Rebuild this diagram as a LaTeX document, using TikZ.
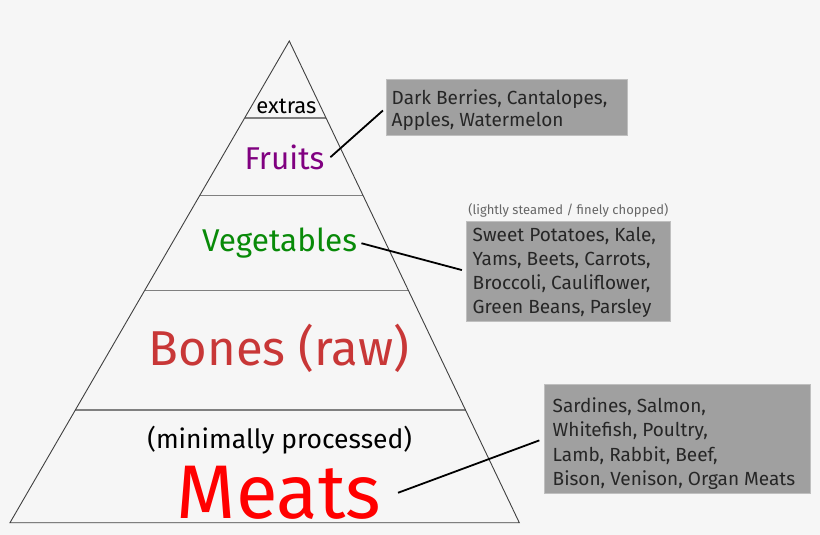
\documentclass[tikz,border=0pt]{standalone}
\usepackage{fontspec}
\setmainfont{Fira Sans}
\usetikzlibrary{positioning}

\definecolor{bgcol}{HTML}{F6F6F6}
\definecolor{boxcol}{HTML}{A0A0A0}
\definecolor{fruitcol}{HTML}{800080}
\definecolor{vegcol}{HTML}{088A08}
\definecolor{bonecol}{HTML}{C83737}
\definecolor{meatcol}{HTML}{FF0000}

\begin{document}
\begin{tikzpicture}
	 [scale =1]
	 \tikzset{inner sep=0pt,outer sep=0pt}
	\tikzstyle{edge}=[draw=black!75,line width=0.9pt]
	\tikzstyle{level}=[draw=black!50,line width=1.3pt]
	\tikzstyle{tier}=[anchor=base,inner ysep=0pt]
	\tikzstyle{foodbox}=[anchor=north west,fill=boxcol,draw=black!25,line width=0.6pt]
	% base of a list = baseline of its last line
	\tikzstyle{foodlist}=[anchor=base west,align=left,font=\fontsize{19}{23.8}\selectfont,text=black!85]
	\tikzstyle{connector}=[draw=black,line width=1.8pt,shorten >=5pt]
	\fill[bgcol] (0 pt,0 pt) rectangle (820 pt,-535 pt);
	\useasboundingbox (0 pt,0 pt) rectangle (820 pt,-535 pt);
	% pyramid
	\coordinate (apex) at (289.3 pt,-41.0 pt);
	\coordinate (bl) at (10.0 pt,-522.7 pt);
	\coordinate (br) at (519.3 pt,-522.7 pt);
	\draw[level] (244.7 pt,-118.0 pt) -- (326.1 pt,-118.0 pt);
	\draw[level] (199.7 pt,-195.5 pt) -- (363.1 pt,-195.5 pt);
	\draw[level] (144.6 pt,-290.5 pt) -- (408.4 pt,-290.5 pt);
	\draw[level] (75.4 pt,-410.0 pt) -- (465.5 pt,-410.0 pt);
	\draw[edge,line join=miter] (apex) -- (bl) -- (br) -- cycle;
	% tiers
	\node [tier,font=\fontsize{22}{24}\selectfont] (extras) at (286.4 pt,-113.3 pt) {extras};
	\node [tier,text=fruitcol,inner xsep=6pt,font=\fontsize{31.5}{34}\selectfont] (fruits) at (284.5 pt,-169.3 pt) {Fruits};
	\node [tier,text=vegcol,inner xsep=4.5pt,font=\fontsize{31.5}{34}\selectfont] (veg) at (279.5 pt,-251.7 pt) {Vegetables};
	\node [tier,text=bonecol,font=\fontsize{49}{52}\selectfont] (bones) at (279.0 pt,-365.0 pt) {Bones (raw)};
	\node [tier,font=\fontsize{26.5}{28}\selectfont] (proc) at (279.7 pt,-448.0 pt) {(minimally processed)};
	\node [tier,text=meatcol,inner xsep=17pt,font=\fontsize{76}{80}\selectfont] (meats) at (279.0 pt,-518.5 pt) {Meats};
	% food lists
	\node [foodbox,minimum width=240.3pt,minimum height=55.7pt] (b1) at (386.7 pt,-79.3 pt) {};
	\node [foodlist,font=\fontsize{19}{22.6}\selectfont] (b1list) at (391.7 pt,-126.9 pt) {Dark Berries, Cantalopes,\\Apples, Watermelon};
	\node [foodbox,minimum width=203.3pt,minimum height=100.7pt] (b2) at (466.7 pt,-221.0 pt) {};
	\node [foodlist] (b2list) at (472.7 pt,-313.1 pt) {Sweet Potatoes, Kale,\\Yams, Beets, Carrots,\\Broccoli, Cauliflower,\\Green Beans, Parsley};
	\node [font=\fontsize{13}{15}\selectfont,text=black!60,above=4pt of b2] (b2note) {(lightly steamed / finely chopped)};
	\node [foodbox,minimum width=266.0pt,minimum height=108.7pt] (b3) at (544.0 pt,-384.3 pt) {};
	\node [foodlist,font=\fontsize{19}{24.2}\selectfont] (b3list) at (552.7 pt,-485.3 pt) {Sardines, Salmon,\\Whitefish, Poultry,\\Lamb, Rabbit, Beef,\\Bison, Venison, Organ Meats};
	\draw[connector] (fruits.east) -- (b1.west);
	\draw[connector] (veg.east) -- (b2.west);
	\draw[connector] (meats.east) -- (b3.west);
	\end{tikzpicture}
\end{document}
